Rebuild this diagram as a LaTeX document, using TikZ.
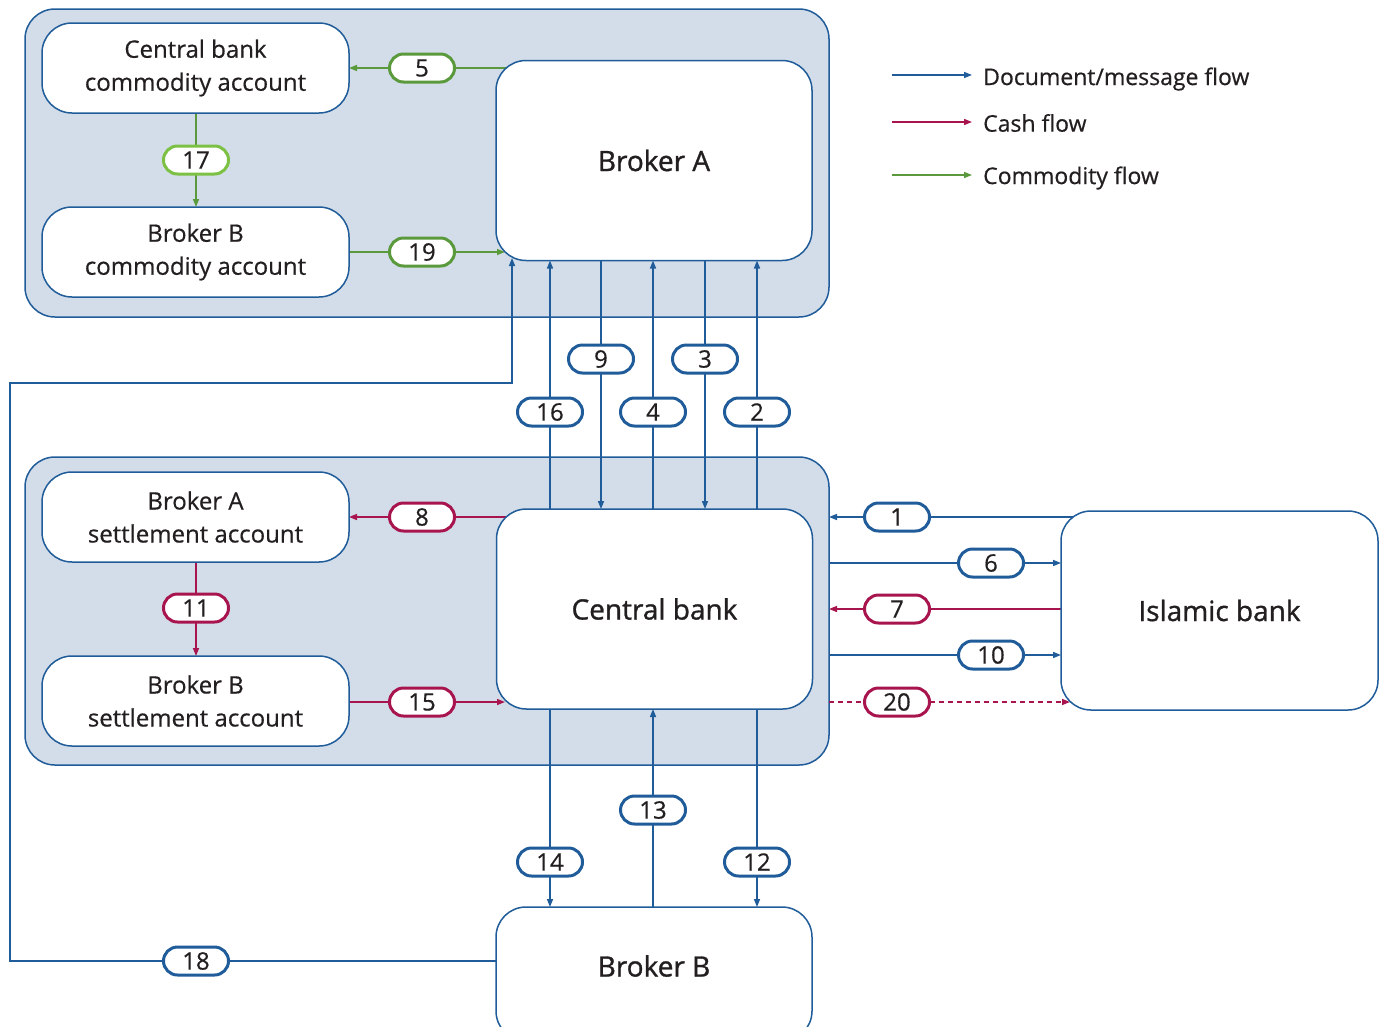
\documentclass[tikz,border=0pt]{standalone}
\usepackage{fontspec}
\setmainfont{Open Sans}[FakeBold=0.5]
\newfontfamily\bigfont{Open Sans}[FakeBold=1.1]
\usetikzlibrary{arrows.meta}
\definecolor{bl}{HTML}{1F5C99}
\definecolor{rd}{HTML}{A8144E}
\definecolor{gr}{HTML}{5B9A3C}
\definecolor{lgr}{HTML}{7CC144}
\definecolor{pan}{HTML}{D3DDE9}
\definecolor{txt}{HTML}{231F20}
\pgfdeclarelayer{panel}
\pgfdeclarelayer{conn}
\pgfsetlayers{panel,conn,main}
\begin{document}
\begin{tikzpicture}[x=1pt,y=-1pt,
  every node/.style={text=txt},
  panelbox/.style={draw=bl,line width=1.5pt,fill=pan,rounded corners=30pt,minimum width=804pt,minimum height=308pt,inner sep=0pt,outer sep=0pt},
  box/.style={draw=bl,line width=1.5pt,fill=white,rounded corners=30pt,inner sep=0pt,outer sep=0pt,align=center},
  acct/.style={box,minimum width=307pt,minimum height=90pt,font=\fontsize{24}{33}\selectfont},
  bigbox/.style={box,minimum width=316pt,minimum height=200pt,font=\bigfont\fontsize{28}{34}\selectfont},
  pill/.style={draw=#1,line width=3pt,fill=white,rounded corners=14pt,minimum width=65pt,minimum height=28pt,inner sep=0pt,outer sep=0pt,font=\fontsize{24}{26}\selectfont},
  con/.style={line width=1.5pt,draw=#1},
  arr/.style={con=#1,-{Triangle[length=8pt,width=6pt]}},
  legtext/.style={anchor=west,font=\fontsize{23}{26}\selectfont,inner sep=0pt}
]
\useasboundingbox (0,0) rectangle (1383,1026);
% panels
\begin{pgfonlayer}{panel}
\node[panelbox] (P1) at (427,163) {};
\node[panelbox] (P2) at (427,611) {};
\end{pgfonlayer}
% boxes
\node[acct] (CBC) at (195.5,68) {Central bank\\commodity account};
\node[acct] (BBC) at (195.5,252) {Broker B\\commodity account};
\node[bigbox] (BA) at (654,160.5) {Broker A};
\node[acct] (BAS) at (195.5,517) {Broker A\\settlement account};
\node[acct] (BBS) at (195.5,701) {Broker B\\settlement account};
\node[bigbox] (CB) at (654.5,609) {Central bank};
\node[bigbox,minimum width=317pt,minimum height=199pt] (IB) at (1219.5,610.5) {Islamic bank};
\node[bigbox,minimum height=134pt] (BB) at (654,974) {};
\node[font=\bigfont\fontsize{28}{34}\selectfont] (BBlab) at (654,966) {Broker B};
% pills
\node[pill=gr] (p5) at (422,68) {5};
\node[pill=lgr] (p17) at (196,160) {17};
\node[pill=gr] (p19) at (422,252) {19};
\node[pill=bl] (p9) at (601,359) {9};
\node[pill=bl] (p3) at (705,359) {3};
\node[pill=bl] (p16) at (550,412) {16};
\node[pill=bl] (p4) at (653,412) {4};
\node[pill=bl] (p2) at (757,412) {2};
\node[pill=rd] (p8) at (422,517) {8};
\node[pill=rd] (p11) at (196,608) {11};
\node[pill=rd] (p15) at (422,702) {15};
\node[pill=bl] (p1) at (897,517) {1};
\node[pill=bl] (p6) at (991,563) {6};
\node[pill=rd] (p7) at (897,609) {7};
\node[pill=bl] (p10) at (991,655) {10};
\node[pill=rd] (p20) at (897,702) {20};
\node[pill=bl] (p13) at (653,810) {13};
\node[pill=bl] (p14) at (550,862) {14};
\node[pill=bl] (p12) at (757,862) {12};
\node[pill=bl] (p18) at (196,961) {18};
% corner coordinates
\coordinate (c5) at (507,68);
\coordinate (c19) at (505,252);
\coordinate (c18) at (512,258);
\coordinate (c8) at (506,517);
\coordinate (c15) at (505,702);
\coordinate (c1) at (1073,517);
\coordinate (c20) at (1070,702);
\coordinate (k1) at (10,961);
\coordinate (k2) at (10,383);
\coordinate (k3) at (512,383);
% legend
\coordinate (l1a) at (892,75); \coordinate (l1b) at (972,75);
\coordinate (l2a) at (892,122); \coordinate (l2b) at (972,122);
\coordinate (l3a) at (892,175); \coordinate (l3b) at (972,175);
\node[legtext] (t1) at (983,79) {Document/message flow};
\node[legtext] (t2) at (983,123) {Cash flow};
\node[legtext] (t3) at (983,178) {Commodity flow};
\begin{pgfonlayer}{conn}
\draw[arr=bl] (l1a) -- (l1b);
\draw[arr=rd] (l2a) -- (l2b);
\draw[arr=gr] (l3a) -- (l3b);
% commodity
\draw[con=gr] (c5) -- (p5); \draw[arr=gr] (p5) -- (CBC.east |- p5);
\draw[con=gr] (CBC.south -| p17) -- (p17); \draw[arr=gr] (p17) -- (BBC.north -| p17);
\draw[con=gr] (BBC.east |- p19) -- (p19); \draw[arr=gr] (p19) -- (c19);
% broker A <-> central bank
\draw[con=bl] (BA.south -| p9) -- (p9); \draw[arr=bl] (p9) -- (CB.north -| p9);
\draw[con=bl] (BA.south -| p3) -- (p3); \draw[arr=bl] (p3) -- (CB.north -| p3);
\draw[con=bl] (CB.north -| p16) -- (p16); \draw[arr=bl] (p16) -- (BA.south -| p16);
\draw[con=bl] (CB.north -| p4) -- (p4); \draw[arr=bl] (p4) -- (BA.south -| p4);
\draw[con=bl] (CB.north -| p2) -- (p2); \draw[arr=bl] (p2) -- (BA.south -| p2);
% 18
\draw[con=bl] (BB.west |- p18) -- (p18);
\draw[arr=bl] (p18) -- (k1) -- (k2) -- (k3) -- (c18);
% cash inside
\draw[con=rd] (c8) -- (p8); \draw[arr=rd] (p8) -- (BAS.east |- p8);
\draw[con=rd] (BAS.south -| p11) -- (p11); \draw[arr=rd] (p11) -- (BBS.north -| p11);
\draw[con=rd] (BBS.east |- p15) -- (p15); \draw[arr=rd] (p15) -- (c15);
% islamic bank
\draw[con=bl] (c1) -- (p1); \draw[arr=bl] (p1) -- (P2.east |- p1);
\draw[con=bl] (P2.east |- p6) -- (p6); \draw[arr=bl] (p6) -- (IB.west |- p6);
\draw[con=rd] (IB.west |- p7) -- (p7); \draw[arr=rd] (p7) -- (P2.east |- p7);
\draw[con=bl] (P2.east |- p10) -- (p10); \draw[arr=bl] (p10) -- (IB.west |- p10);
\draw[con=rd,dash pattern=on 5pt off 4pt] (P2.east |- p20) -- (p20);
\draw[arr=rd,dash pattern=on 5pt off 4pt] (p20) -- (c20);
% broker B
\draw[con=bl] (BB.north -| p13) -- (p13); \draw[arr=bl] (p13) -- (CB.south -| p13);
\draw[con=bl] (CB.south -| p14) -- (p14); \draw[arr=bl] (p14) -- (BB.north -| p14);
\draw[con=bl] (CB.south -| p12) -- (p12); \draw[arr=bl] (p12) -- (BB.north -| p12);
\end{pgfonlayer}
\end{tikzpicture}
\end{document}
